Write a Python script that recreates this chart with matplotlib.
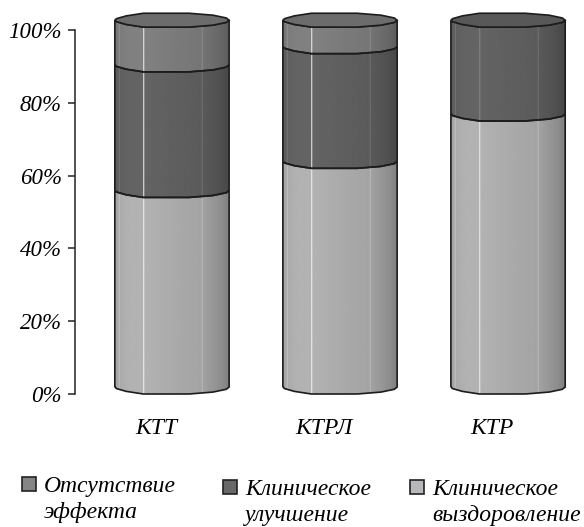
import numpy as np
import matplotlib
matplotlib.use("Agg")
import matplotlib.pyplot as plt
from matplotlib.patches import PathPatch, Rectangle
from matplotlib.path import Path
from matplotlib.transforms import ScaledTranslation

plt.rcParams['font.family'] = ['Liberation Serif', 'DejaVu Serif']
plt.rcParams['font.style'] = 'italic'

categories = ['КТТ', 'КТРЛ', 'КТР']
recovery = [54, 62, 75]
improvement = [34.5, 31.5, 25.8]
no_effect = [12.3, 7.3, 0]
y_ticks = [0, 20, 40, 60, 80, 100]
y_tick_labels = ['0%', '20%', '40%', '60%', '80%', '100%']
legend_labels = [['Отсутствие', 'эффекта'], ['Клиническое', 'улучшение'], ['Клиническое', 'выздоровление']]

# base gray per series, and horizontal shading across a cylinder
colors = {'recovery': 172, 'improvement': 96, 'no_effect': 124}
shade_x = [-1, -0.9, -0.78, -0.5, -0.1, 0.5, 0.7, 0.86, 1]
shade_v = [0.95, 1.0, 1.03, 1.04, 1.0, 0.95, 0.88, 0.82, 0.74]
# faceted front edge of the ellipse
edge_x = [-1, -0.97, -0.8, -0.5, 0.3, 0.72, 0.95, 1]
edge_d = [0, 0.22, 0.62, 1.0, 1.0, 0.72, 0.32, 0]

W = 584
H = 527
BAR = 0.34
DROP = 1.9

fig = plt.figure(figsize=(W / 100, H / 100), dpi=100)
ax = fig.add_axes([75 / W, 1 - 394 / H, (W - 75) / W, 364 / H])
ax.set_xlim(-0.577, 2.452)
ax.set_ylim(0, 100)
ax.patch.set_alpha(0)
for s in ['top', 'right', 'bottom']:
    ax.spines[s].set_visible(False)
ax.spines['left'].set_linewidth(1.1)
ax.spines['left'].set_color('#222222')
ax.spines['left'].set_bounds(0, 100)
ax.set_yticks(y_ticks)
ax.set_yticklabels(y_tick_labels, fontsize=16.5)
ax.tick_params(axis='y', length=5, width=1.1, color='#222222', pad=4.5)
ax.set_xticks(range(3))
ax.set_xticklabels(categories, fontsize=17)
ax.tick_params(axis='x', length=0, pad=17)
# the category names sit left of the cylinder centres
for lab in ax.get_xticklabels():
    lab.set_transform(lab.get_transform() + ScaledTranslation(-16 / 100, 0, fig.dpi_scale_trans))

u = np.linspace(-1, 1, 240)
shade = np.interp(u, shade_x, shade_v)


def front_curve(cx, level):
    xs = cx + np.array(edge_x) * BAR
    ys = level + DROP * (1 - np.array(edge_d))
    return xs, ys


def draw_segment(cx, lo, hi, gray):
    xl, yl = front_curve(cx, lo)
    xh, yh = front_curve(cx, hi)
    verts = list(zip(xl, yl)) + list(zip(xh[::-1], yh[::-1])) + [(xl[0], yl[0])]
    patch = PathPatch(Path(verts), facecolor='none', edgecolor='#1c1c1c', lw=1.2, zorder=3, clip_on=False)
    ax.add_patch(patch)
    row = np.clip(gray * shade, 0, 255)
    # thin pale lines on the cylinder surface
    row[np.abs(u + 0.93) < 0.008] += 24
    row[np.abs(u - 0.52) < 0.008] += 24
    row[np.abs(u + 0.5) < 0.009] = 245 if cx < 2 else gray * 1.4
    img = np.tile(row / 255, (2, 1))
    im = ax.imshow(img, cmap='gray', vmin=0, vmax=1, aspect='auto', zorder=2,
                   extent=[cx - BAR, cx + BAR, lo, hi + DROP], interpolation='bilinear')
    im.set_clip_path(patch)
    im.set_clip_on(True)


ax.set_ylim(0, 105)
for i, cx in enumerate(range(3)):
    a = recovery[i]
    b = a + improvement[i]
    c = b + no_effect[i]
    draw_segment(cx, 0, a, colors['recovery'])
    draw_segment(cx, a, b, colors['improvement'])
    if no_effect[i] > 0:
        draw_segment(cx, b, c, colors['no_effect'])
    # top cap, back edge mirrors the front one
    xf, yf = front_curve(cx, c)
    yb = c + DROP + (c + DROP - yf)
    cap = list(zip(xf, yf)) + list(zip(xf[::-1][1:], yb[::-1][1:]))
    cap_gray = 108 if no_effect[i] > 0 else 88
    ax.add_patch(PathPatch(Path(cap + [cap[0]]), facecolor=str(cap_gray / 255),
                           edgecolor='#1c1c1c', lw=1.2, zorder=4, clip_on=False))
ax.set_xlim(-0.577, 2.452)
ax.set_ylim(0, 105)
ax.set_position([75 / W, 1 - 394 / H, (W - 75) / W, 364 * 1.05 / H])

legend_x = [22, 223, 410]
legend_top = [477, 480, 480]
legend_text_x = [44, 245, 432]
legend_base = [492, 495, 495]
legend_colors = ['#858585', '#686868', '#b8b8bb']
for x, top, tx, base, col, lines in zip(legend_x, legend_top, legend_text_x, legend_base, legend_colors, legend_labels):
    fig.add_artist(Rectangle((x / W, 1 - (top + 14) / H), 14 / W, 14 / H, transform=fig.transFigure,
                             facecolor=col, edgecolor='#222222', lw=1.2))
    for k, line in enumerate(lines):
        fig.text(tx / W, 1 - (base + 26 * k) / H, line, fontsize=17, va='baseline', ha='left')

fig.savefig('out.png', dpi=100)
